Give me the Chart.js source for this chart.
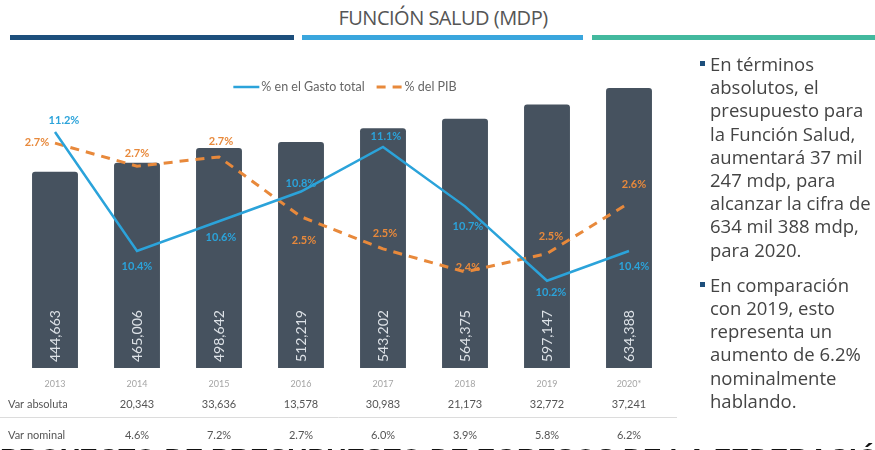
<!DOCTYPE html>
<html lang="es">
<head>
<meta charset="utf-8">
<title>Función Salud (MDP)</title>
<script src="https://cdn.jsdelivr.net/npm/chart.js@4.4.1/dist/chart.umd.min.js"></script>
<style>
  body {
    margin: 0;
    width: 875px;
    height: 450px;
    overflow: hidden;
    position: relative;
    background: #fff;
    font-family: 'Lato', sans-serif;
  }
  #titulo {
    position: absolute;
    left: 300px;
    width: 286px;
    top: 4px;
    text-align: center;
    font-family: 'Open Sans', sans-serif;
    font-size: 20px;
    color: #555;
    letter-spacing: -0.5px;
  }
  .franja {
    position: absolute;
    top: 35px;
    height: 5px;
  }
  #grafico {
    position: absolute;
    left: 0;
    top: 0;
  }
  #notas {
    position: absolute;
    left: 710px;
    top: 52px;
    margin: 0;
    padding: 0;
    list-style: none;
    font-family: 'Open Sans', sans-serif;
    font-size: 18.5px;
    line-height: 23.2px;
    color: #444;
    white-space: nowrap;
  }
  #notas li {
    position: relative;
    margin-bottom: 12px;
  }
  #notas li::before {
    content: '';
    position: absolute;
    left: -10px;
    top: 9px;
    width: 5px;
    height: 5px;
    background: #1d4f7c;
  }
  #pie {
    position: absolute;
    left: 0;
    top: 443px;
    font-family: 'Liberation Sans', sans-serif;
    font-weight: bold;
    font-size: 28px;
    color: #111;
    white-space: nowrap;
  }
</style>
</head>
<body>
<div id="titulo">FUNCIÓN SALUD (MDP)</div>
<div class="franja" style="left:10px;width:284px;background:#1d4f7c"></div>
<div class="franja" style="left:302px;width:281px;background:#3aa6dd"></div>
<div class="franja" style="left:592px;width:283px;background:#43b99e"></div>

<canvas id="grafico" width="875" height="450"></canvas>

<ul id="notas">
  <li>En términos<br>absolutos, el<br>presupuesto para<br>la Función Salud,<br>aumentará 37 mil<br>247 mdp, para<br>alcanzar la cifra de<br>634 mil 388 mdp,<br>para 2020.</li>
  <li>En comparación<br>con 2019, esto<br>representa un<br>aumento de 6.2%<br>nominalmente<br>hablando.</li>
</ul>

<div id="pie">PROYECTO DE PRESUPUESTO DE EGRESOS DE LA FEDERACIÓN 2020</div>

<script>
// datos
const anios = ['2013', '2014', '2015', '2016', '2017', '2018', '2019', '2020*'];
const montos = [444663, 465006, 498642, 512219, 543202, 564375, 597147, 634388];
const gastoTotal = [11.2, 10.4, 10.6, 10.8, 11.1, 10.7, 10.2, 10.4];
const pib = [2.72, 2.67, 2.69, 2.56, 2.49, 2.44, 2.48, 2.59];
const pibEtiquetas = ['2.7%', '2.7%', '2.7%', '2.5%', '2.5%', '2.4%', '2.5%', '2.6%'];
const varAbsoluta = [null, 20343, 33636, 13578, 30983, 21173, 32772, 37241];
const varNominal = [null, 4.6, 7.2, 2.7, 6.0, 3.9, 5.8, 6.2];

// desplazamiento de las etiquetas respecto al punto [dx, dy]
const despGasto = [[9, -12], [0, 15], [2, 16], [0, -8], [3, -10], [3, 20], [4, 12], [5, 15]];
const despPib = [[-18, -1], [0, -13], [2, -15], [3, 24], [2, -15], [3, -4], [4, -17], [5, -18]];

const AZUL = '#2ba3da';
const NARANJA = '#e8893b';
const BARRA = '#46525f';

const fmt = n => n.toLocaleString('en-US');

const etiquetas = {
    id: 'etiquetas',
    afterDatasetsDraw(chart) {
        const ctx = chart.ctx;
        const area = chart.chartArea;
        const x = chart.scales.x;

        // valores dentro de las barras
        const barras = chart.getDatasetMeta(2).data;
        ctx.save();
        ctx.fillStyle = '#dde2e7';
        ctx.font = '14px Lato';
        ctx.textAlign = 'left';
        ctx.textBaseline = 'middle';
        barras.forEach(function (b, i) {
            ctx.save();
            ctx.translate(b.x, area.bottom - 6);
            ctx.rotate(-Math.PI / 2);
            ctx.fillText(fmt(montos[i]), 0, 0);
            ctx.restore();
        });
        ctx.restore();

        // etiquetas de las lineas
        ctx.save();
        ctx.font = 'bold 11px Lato';
        ctx.textAlign = 'center';
        ctx.textBaseline = 'middle';
        const puntosPib = chart.getDatasetMeta(1).data;
        ctx.fillStyle = NARANJA;
        puntosPib.forEach(function (p, i) {
            ctx.fillText(pibEtiquetas[i], p.x + despPib[i][0], p.y + despPib[i][1]);
        });
        const puntosGasto = chart.getDatasetMeta(0).data;
        ctx.fillStyle = AZUL;
        puntosGasto.forEach(function (p, i) {
            ctx.fillText(gastoTotal[i].toFixed(1) + '%', p.x + despGasto[i][0], p.y + despGasto[i][1]);
        });
        ctx.restore();

        // tabla inferior
        ctx.save();
        ctx.textBaseline = 'middle';
        ctx.textAlign = 'center';
        ctx.fillStyle = '#a5a5a5';
        ctx.font = '9px Lato';
        anios.forEach(function (a, i) {
            ctx.fillText(a, x.getPixelForValue(i), area.bottom + 16);
        });
        ctx.fillStyle = '#555';
        ctx.font = '11px Lato';
        ctx.textAlign = 'left';
        ctx.fillText('Var absoluta', 8, area.bottom + 36);
        ctx.fillText('Var nominal', 8, area.bottom + 67);
        ctx.textAlign = 'center';
        varAbsoluta.forEach(function (v, i) {
            if (v !== null) ctx.fillText(fmt(v), x.getPixelForValue(i), area.bottom + 36);
        });
        varNominal.forEach(function (v, i) {
            if (v !== null) ctx.fillText(v.toFixed(1) + '%', x.getPixelForValue(i), area.bottom + 67);
        });
        ctx.strokeStyle = '#dcdcdc';
        ctx.lineWidth = 1;
        ctx.beginPath();
        ctx.moveTo(0, area.bottom + 49.5);
        ctx.lineTo(677, area.bottom + 49.5);
        ctx.stroke();
        ctx.restore();

        // leyenda
        ctx.save();
        ctx.font = '12.5px Lato';
        ctx.textBaseline = 'middle';
        ctx.textAlign = 'left';
        const items = chart.data.datasets.slice(0, 2);
        const anchos = items.map(d => 28 + ctx.measureText(d.label).width);
        const total = anchos[0] + anchos[1] + 12;
        let lx = (area.left + area.right) / 2 + 3 - total / 2;
        const ly = 87;
        items.forEach(function (d, i) {
            ctx.strokeStyle = d.borderColor;
            ctx.lineWidth = d.borderWidth;
            ctx.setLineDash(d.borderDash || []);
            ctx.beginPath();
            ctx.moveTo(lx, ly);
            ctx.lineTo(lx + 26, ly);
            ctx.stroke();
            ctx.setLineDash([]);
            ctx.fillStyle = '#666';
            ctx.fillText(d.label, lx + 28, ly);
            lx += anchos[i] + 12;
        });
        ctx.restore();
    }
};

new Chart(document.getElementById('grafico'), {
    type: 'bar',
    data: {
        labels: anios,
        datasets: [{
            type: 'line',
            label: '% en el Gasto total',
            data: gastoTotal,
            yAxisID: 'yGasto',
            borderColor: AZUL,
            backgroundColor: AZUL,
            borderWidth: 2.5,
            pointRadius: 0,
            tension: 0,
            order: 0
        },
        {
            type: 'line',
            label: '% del PIB',
            data: pib,
            yAxisID: 'yPib',
            borderColor: NARANJA,
            backgroundColor: NARANJA,
            borderWidth: 3,
            borderDash: [9, 7],
            pointRadius: 0,
            tension: 0,
            order: 1
        },
        {
            label: 'MDP',
            data: montos,
            yAxisID: 'y',
            backgroundColor: BARRA,
            borderRadius: 3,
            barPercentage: 0.56,
            categoryPercentage: 1,
            order: 2
        }]
    },
    options: {
        responsive: false,
        animation: false,
        layout: {
            padding: { left: 14, right: 205, top: 59, bottom: 82 }
        },
        plugins: {
            legend: { display: false },
            tooltip: { enabled: false }
        },
        scales: {
            x: { display: false },
            y: { display: false, min: 0, max: 700000 },
            yGasto: { display: false, min: 9.613, max: 11.691 },
            yPib: { display: false, min: 2.231, max: 2.903 }
        }
    },
    plugins: [etiquetas]
});
</script>
</body>
</html>
